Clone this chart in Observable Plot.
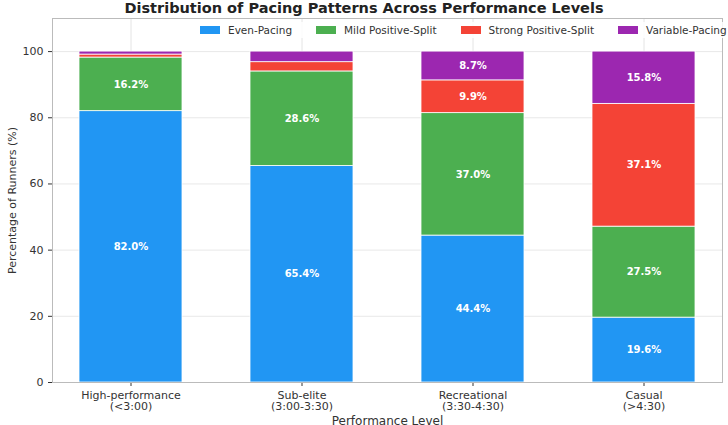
<!DOCTYPE html><html><head><meta charset="utf-8">
<script src="https://cdn.jsdelivr.net/npm/d3@7"></script>
<script src="https://cdn.jsdelivr.net/npm/@observablehq/plot@0.6"></script>
<style>body{margin:0;font-family:"DejaVu Sans",sans-serif;background:#fff}
#t{height:18px;text-align:center;font-weight:bold;font-size:14.5px;line-height:16px;color:#222}
#wrap{position:relative;width:728px}
#lg{position:absolute;top:4px;left:196px;display:flex;font-size:10.5px;color:#333;background:rgba(255,255,255,0.85);white-space:nowrap;padding:2px 4px}
#lg span{display:flex;align-items:center;margin-right:24px}
#lg span:last-child{margin-right:6px}
#lg i{display:inline-block;width:20px;height:8px;margin-right:8px}
</style></head><body>
<div id="t">Distribution of Pacing Patterns Across Performance Levels</div>
<div id="wrap"><div id="chart"></div><div id="lg"></div></div>
<script>
const categories=["High-performance\n(<3:00)","Sub-elite\n(3:00-3:30)","Recreational\n(3:30-4:30)","Casual\n(>4:30)"];
const series=["Even-Pacing","Mild Positive-Split","Strong Positive-Split","Variable-Pacing"];
const colors=["#2196F3","#4CAF50","#F44336","#9C27B0"];
const even=[82.0,65.4,44.4,19.6];
const mild=[16.2,28.6,37.0,27.5];
const strong=[0.9,2.8,9.9,37.1];
const variable=[0.9,3.2,8.7,15.8];
const vals=[even,mild,strong,variable];
const data=[];
categories.forEach((c,i)=>{let y0=0;series.forEach((s,j)=>{const v=vals[j][i];data.push({c,s,y1:y0,y2:y0+v,v});y0+=v;});});
const chart=Plot.plot({width:728,height:407,marginLeft:52,marginRight:6,marginTop:0,marginBottom:43,
style:{fontFamily:"DejaVu Sans",fontSize:"11px",color:"#333"},
x:{domain:categories,paddingInner:0.4,paddingOuter:0.15,label:null,tickSize:4},
y:{domain:[0,110],ticks:[0,20,40,60,80,100],label:"Percentage of Runners (%)",labelArrow:"none",labelAnchor:"center",labelOffset:44,tickSize:4},
color:{domain:series,range:colors},
marks:[
Plot.gridY([0,20,40,60,80,100],{stroke:"#e3e3e3",strokeOpacity:1,strokeWidth:0.8}),
Plot.gridX(categories,{stroke:"#ddd",strokeOpacity:1,strokeWidth:0.8}),
Plot.rectY(data,{x:"c",y1:"y1",y2:"y2",fill:"s",stroke:"white",strokeWidth:0.8}),
Plot.text(data.filter(d=>d.v>=5),{x:"c",y:d=>(d.y1+d.y2)/2,text:d=>d.v.toFixed(1)+"%",fill:"white",fontWeight:"bold",fontSize:10}),
Plot.text(["Performance Level"],{frameAnchor:"bottom",dy:42,fontSize:12,fill:"#333"}),
Plot.frame({stroke:"#bbb"})
]});
document.getElementById("chart").append(chart);
document.getElementById("lg").innerHTML=series.map((s,i)=>`<span><i style="background:${colors[i]}"></i>${s}</span>`).join("");
</script></body></html>
